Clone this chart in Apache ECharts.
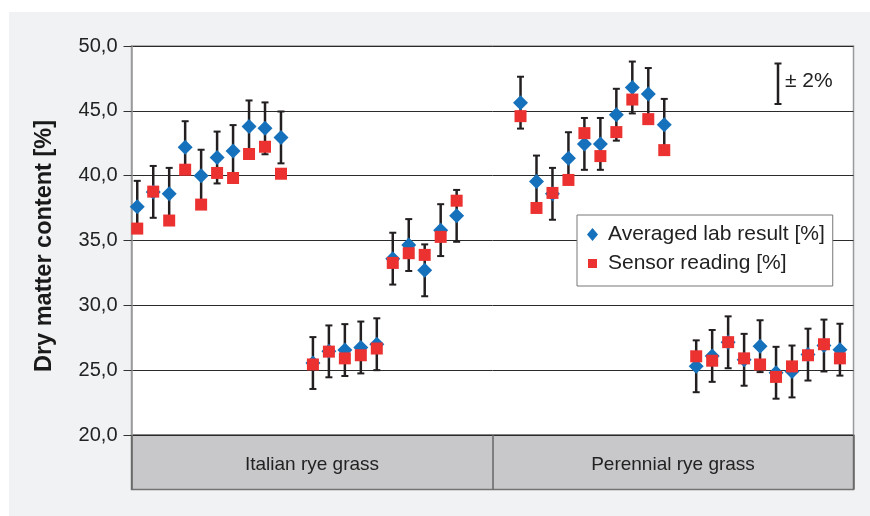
<!DOCTYPE html>
<html>
<head>
<meta charset="utf-8">
<script src="https://cdn.jsdelivr.net/npm/echarts@6/dist/echarts.min.js"></script>
<style>
  html, body { margin: 0; padding: 0; background: #ffffff; }
  #bg { position: absolute; left: 9px; top: 12px; width: 861px; height: 504px; background: #f1f2f4; }
  #chart { position: absolute; left: 0; top: 0; width: 870px; height: 516px; }
</style>
</head>
<body>
<div id="bg"></div>
<div id="chart"></div>
<script>
// ---- Data ----
const groups = ['Italian rye grass', 'Perennial rye grass'];
const yTicks = [20, 25, 30, 35, 40, 45, 50];
// sample positions 0..44 ; null = empty slot
const labResult = [
  37.6, 38.75, 38.6, 42.2, 40.0, 41.4, 41.9, 43.8, 43.65, 42.95,
  null,
  25.55, 26.45, 26.55, 26.75, 27.0, 33.6, 34.65, 32.7, 35.8, 36.9,
  null, null, null,
  45.63, 39.55, 38.6, 41.35, 42.45, 42.45, 44.7, 46.8, 46.3, 43.92,
  null,
  25.3, 26.1, 27.15, 25.8, 26.85, 24.8, 24.9, 26.2, 26.9, 26.58
];
const sensorReading = [
  35.92, 38.77, 36.54, 40.46, 37.77, 40.21, 39.82, 41.67, 42.23, 40.15,
  null,
  25.44, 26.43, 25.91, 26.15, 26.67, 33.27, 34.02, 33.89, 35.28, 38.07,
  null, null, null,
  44.59, 37.51, 38.67, 39.67, 43.28, 41.51, 43.36, 45.87, 44.36, 41.97,
  null,
  26.07, 25.73, 27.16, 25.91, 25.44, 24.48, 25.29, 26.15, 27.0, 25.91
];
const errorMargin = 2; // ± 2 %

// ---- Build series data ----
const labData = [], sensorData = [], errData = [];
labResult.forEach((v, i) => {
  if (v != null) {
    labData.push([i, v]);
    errData.push([i, v - errorMargin, v + errorMargin]);
  }
});
sensorReading.forEach((v, i) => { if (v != null) sensorData.push([i, v]); });

const FONT = '"Liberation Sans", Arial, Helvetica, sans-serif';
const chart = echarts.init(document.getElementById('chart'));

const option = {
  animation: false,
  textStyle: { fontFamily: FONT },
  grid: [
    { left: 131.5, right: 16.5, top: 46, bottom: 81, show: true,
      backgroundColor: '#ffffff', borderColor: '#9a9a9a', borderWidth: 1.5 },
    { left: 131.5, right: 16.5, top: 435, height: 54.5, show: true,
      backgroundColor: '#c8c8ca', borderColor: '#737373', borderWidth: 1.5 }
  ],
  xAxis: [
    { type: 'value', gridIndex: 0, min: -0.36, max: 44.85, show: false },
    { type: 'category', gridIndex: 1, data: groups, boundaryGap: true,
      axisLine: { show: false }, axisTick: { show: false },
      splitLine: { show: true, lineStyle: { color: '#666666', width: 1.5 } },
      axisLabel: { inside: true, margin: 25, verticalAlign: 'middle',
        fontSize: 19, color: '#222222', fontFamily: FONT } }
  ],
  yAxis: [
    { type: 'value', gridIndex: 0, min: yTicks[0], max: yTicks[yTicks.length - 1], interval: 5,
      axisLine: { show: true, onZero: false, lineStyle: { color: '#9a9a9a', width: 1.5 } },
      axisTick: { show: true, length: 8, lineStyle: { color: '#333333', width: 1 } },
      axisLabel: { margin: 14, fontSize: 20, color: '#222222', fontFamily: FONT,
        formatter: v => v.toFixed(1).replace('.', ',') },
      splitLine: { show: true, lineStyle: { color: '#2b2b2b', width: 1 } } },
    { type: 'value', gridIndex: 1, show: false, min: 0, max: 1 }
  ],
  legend: {
    orient: 'vertical', left: 577, top: 215,
    backgroundColor: '#ffffff', borderColor: '#777777', borderWidth: 1,
    padding: [9, 8, 12, 10], itemGap: 8, itemWidth: 11, itemHeight: 13,
    textStyle: { fontSize: 21, color: '#222222', fontFamily: FONT, padding: [0, 0, 0, 5] },
    data: [
      { name: 'Averaged lab result [%]', icon: 'diamond' },
      { name: 'Sensor reading [%]', icon: 'path://M0,0M1,2L10,2L10,11L1,11ZM11,13' }
    ]
  },
  graphic: [
    { type: 'text', x: 45, y: 246, rotation: Math.PI / 2,
      style: { text: 'Dry matter content [%]', font: 'bold 23.5px ' + FONT, fill: '#1a1a1a',
        textAlign: 'center', textVerticalAlign: 'middle' } },
    { type: 'group', left: 772, top: 61,
      children: [
        { type: 'line', shape: { x1: 3.5, y1: 0.5, x2: 3.5, y2: 41 }, style: { stroke: '#231f20', lineWidth: 2.5 } },
        { type: 'line', shape: { x1: 0, y1: 0.5, x2: 7, y2: 0.5 }, style: { stroke: '#231f20', lineWidth: 2 } },
        { type: 'line', shape: { x1: 0, y1: 41, x2: 7, y2: 41 }, style: { stroke: '#231f20', lineWidth: 2 } }
      ] },
    { type: 'text', left: 785, top: 71,
      style: { text: '± 2%', font: '21px ' + FONT, fill: '#222222' } }
  ],
  series: [
    { name: 'error', type: 'custom', xAxisIndex: 0, yAxisIndex: 0, z: 2,
      encode: { x: 0, y: [1, 2] },
      data: errData,
      renderItem: function (params, api) {
        const x = api.value(0);
        const top = api.coord([x, api.value(2)]);
        const bot = api.coord([x, api.value(1)]);
        const cw = 3.5;
        const st = { stroke: '#231f20', lineWidth: 2.5 };
        return { type: 'group', children: [
          { type: 'line', shape: { x1: top[0], y1: top[1], x2: bot[0], y2: bot[1] }, style: st },
          { type: 'line', shape: { x1: top[0] - cw, y1: top[1], x2: top[0] + cw, y2: top[1] }, style: { stroke: '#231f20', lineWidth: 2 } },
          { type: 'line', shape: { x1: bot[0] - cw, y1: bot[1], x2: bot[0] + cw, y2: bot[1] }, style: { stroke: '#231f20', lineWidth: 2 } }
        ] };
      } },
    { name: 'Averaged lab result [%]', type: 'scatter', xAxisIndex: 0, yAxisIndex: 0, z: 3,
      symbol: 'diamond', symbolSize: 15, itemStyle: { color: '#1571bb', opacity: 1 },
      data: labData },
    { name: 'Sensor reading [%]', type: 'scatter', xAxisIndex: 0, yAxisIndex: 0, z: 4,
      symbol: 'rect', symbolSize: 12, itemStyle: { color: '#ec3131', opacity: 1 },
      data: sensorData }
  ]
};
chart.setOption(option);
</script>
</body>
</html>
